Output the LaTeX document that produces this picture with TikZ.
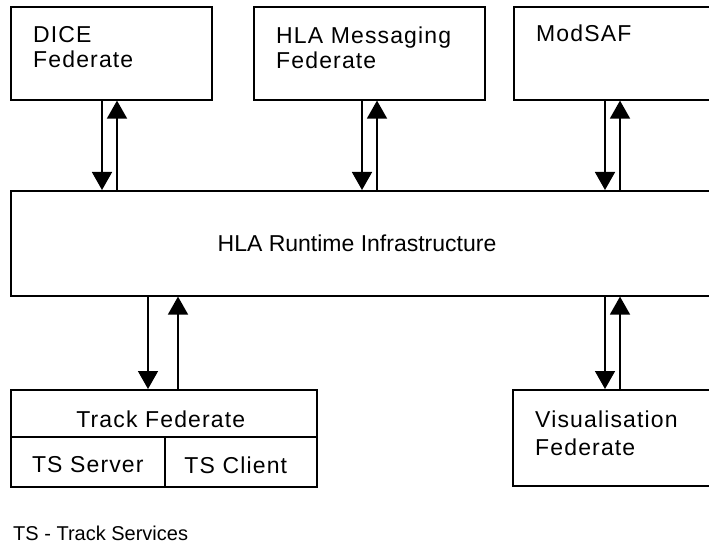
\documentclass[tikz,border=0pt]{standalone}
\usepackage{fontspec}
\setmainfont{Liberation Sans}
\newfontfamily\spacedfont[LetterSpace=5]{Liberation Sans}
\usetikzlibrary{arrows.meta}

\tikzset{
  fedbox/.style={draw, line width=1.6pt, inner sep=0pt, anchor=north west},
  fedtext/.style={inner sep=0pt, align=left, anchor=north west,
    font=\spacedfont\fontsize{23}{25}\selectfont},
  midtext/.style={inner sep=0pt, font=\spacedfont\fontsize{23}{25}\selectfont},
  link/.style={line width=1.6pt, -{Triangle[length=18pt,width=20pt]}}
}

\begin{document}
\begin{tikzpicture}[x=1pt,y=-1pt]

\useasboundingbox (0,0) rectangle (709,548);
\clip (0,0) rectangle (709,548);

% Federates oben
\node[fedbox, minimum width=201pt, minimum height=93pt] (dice) at (10,6) {};
\node[fedbox, minimum width=231pt, minimum height=93pt] (hlamsg) at (253,6) {};
\node[fedbox, minimum width=230pt, minimum height=93pt] (modsaf) at (513,6) {};

\node[fedtext] (dicetxt) at (33,26) {DICE\\Federate};
\node[fedtext] (hlamsgtxt) at (276,27) {HLA Messaging\\Federate};
\node[fedtext] (modsaftxt) at (536,25) {ModSAF};

% RTI
\node[fedbox, minimum width=730pt, minimum height=105pt] (rti) at (10,190) {};
\node[midtext, font=\fontsize{23}{25}\selectfont] (rtitxt) at ([xshift=347pt]rti.west) {HLA Runtime Infrastructure};

% Track Federate
\node[fedbox, minimum width=306pt, minimum height=47pt] (trackhead) at (10,389) {};
\node[fedbox, minimum width=154pt, minimum height=50pt] (tsserver) at (10,436) {};
\node[fedbox, minimum width=152pt, minimum height=50pt] (tsclient) at (164,436) {};

\node[midtext] (tracktxt) at ([xshift=-3pt,yshift=-6pt]trackhead.center) {Track Federate};
\node[midtext] (tsservertxt) at ([yshift=-3pt]tsserver.center) {TS Server};
\node[midtext] (tsclienttxt) at ([xshift=-5pt,yshift=-3pt]tsclient.center) {TS Client};

% Visualisation
\node[fedbox, minimum width=228pt, minimum height=96pt] (vis) at (512,389) {};
\node[fedtext, font=\spacedfont\fontsize{23}{28}\selectfont] (vistxt) at (535,411) {Visualisation\\Federate};

% Pfeile
\draw[link] ([xshift=92pt]dice.south west) -- ([xshift=92pt]rti.north west);
\draw[link] ([xshift=107pt]rti.north west) -- ([xshift=107pt]dice.south west);

\draw[link] ([xshift=109pt]hlamsg.south west) -- ([xshift=352pt]rti.north west);
\draw[link] ([xshift=367pt]rti.north west) -- ([xshift=124pt]hlamsg.south west);

\draw[link] ([xshift=92pt]modsaf.south west) -- ([xshift=595pt]rti.north west);
\draw[link] ([xshift=610pt]rti.north west) -- ([xshift=107pt]modsaf.south west);

\draw[link] ([xshift=138pt]rti.south west) -- ([xshift=138pt]trackhead.north west);
\draw[link] ([xshift=168pt]trackhead.north west) -- ([xshift=168pt]rti.south west);

\draw[link] ([xshift=595pt]rti.south west) -- ([xshift=93pt]vis.north west);
\draw[link] ([xshift=108pt]vis.north west) -- ([xshift=610pt]rti.south west);

% Legende
\node[inner sep=0pt, anchor=base west, font=\fontsize{20}{22}\selectfont] (legend) at (13,540) {TS - Track Services};

\end{tikzpicture}
\end{document}
